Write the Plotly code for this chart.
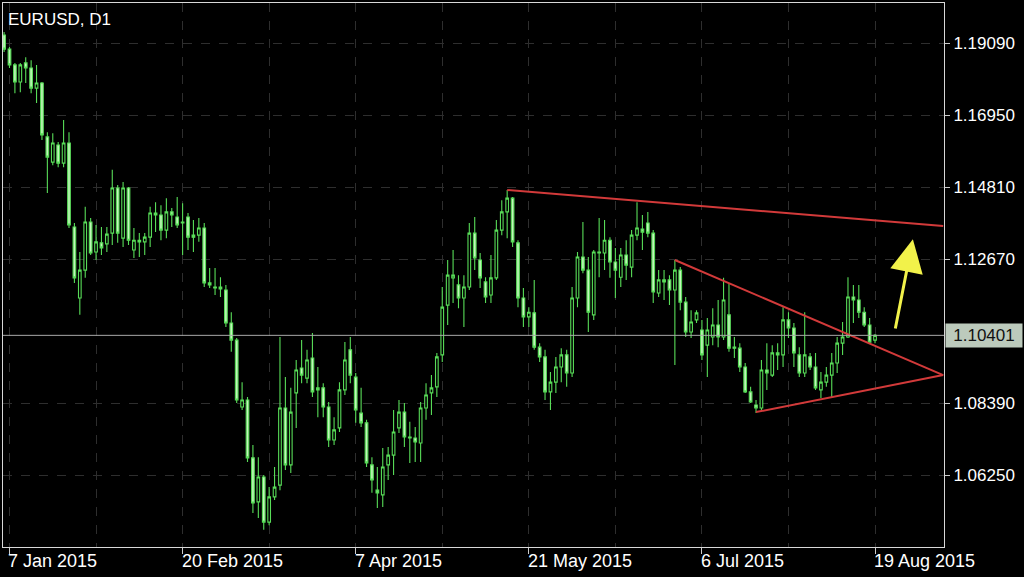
import pandas as pd
import plotly.graph_objects as go

# ---- data (EURUSD daily) ----
dates = pd.bdate_range("2015-01-06", "2015-08-19")

opens = [1.1933,1.1891,1.1844,1.1793,1.1850,1.1835,1.1775,1.1790,1.1630,1.1555,
         1.1606,1.1552,1.1612,1.1362,1.1151,1.1234,1.1377,1.1288,1.1315,1.1312,
         1.1344,1.1478,1.1329,1.1478,1.1294,1.1323,1.1318,1.1332,1.1404,1.1398,
         1.1353,1.1407,1.1392,1.1374,1.1392,1.1338,1.1338,1.1359,1.1196,1.1184,
         1.1184,1.1175,1.1077,1.1026,1.0827,1.0848,1.0676,1.0545,1.0619,1.0485,
         1.0560,1.0595,1.0824,1.0655,1.0869,1.0943,1.0913,1.0973,1.0878,1.0884,
         1.0827,1.0729,1.0765,1.0878,1.0997,1.0916,1.0809,1.0780,1.0655,1.0580,
         1.0566,1.0655,1.0684,1.0765,1.0812,1.0738,1.0735,1.0720,1.0824,1.0869,
         1.0887,1.0982,1.1130,1.1211,1.1190,1.1151,1.1184,1.1344,1.1264,1.1199,
         1.1160,1.1211,1.1353,1.1407,1.1448,1.1315,1.1151,1.1095,1.1107,1.1005,
         1.0976,1.0872,1.0901,1.0946,1.0982,1.0928,1.1151,1.1273,1.1234,1.1101,
         1.1285,1.1285,1.1323,1.1258,1.1213,1.1279,1.1243,1.1338,1.1356,1.1374,
         1.1344,1.1166,1.1205,1.1205,1.1175,1.1234,1.1139,1.1050,1.1086,1.1056,
         1.1011,1.1035,1.1071,1.1035,1.1101,1.1005,1.1002,1.0946,1.0872,1.0833,
         1.0824,1.0937,1.0922,1.0988,1.0982,1.1086,1.1062,1.0982,1.0928,1.0976,
         1.0946,1.0878,1.0901,1.0922,1.0958,1.1017,1.1035,1.1154,1.1145,1.1109,
         1.1071,1.1026]
highs = [1.1942,1.1897,1.1850,1.1850,1.1867,1.1858,1.1844,1.1793,1.1644,1.1641,
         1.1615,1.1680,1.1644,1.1374,1.1288,1.1422,1.1389,1.1368,1.1362,1.1362,
         1.1532,1.1487,1.1496,1.1481,1.1359,1.1344,1.1344,1.1422,1.1436,1.1427,
         1.1448,1.1419,1.1451,1.1433,1.1404,1.1383,1.1389,1.1374,1.1240,1.1240,
         1.1213,1.1190,1.1109,1.1032,1.0901,1.0857,1.0714,1.0678,1.0625,1.0589,
         1.0649,1.1035,1.0916,1.0884,1.0967,1.1026,1.0997,1.1047,1.0946,1.0898,
         1.0842,1.0797,1.0901,1.1020,1.1035,1.0928,1.0884,1.0789,1.0678,1.0649,
         1.0705,1.0708,1.0818,1.0848,1.0839,1.0783,1.0768,1.0842,1.0898,1.0922,
         1.0988,1.1184,1.1264,1.1294,1.1219,1.1219,1.1374,1.1392,1.1285,1.1213,
         1.1279,1.1383,1.1442,1.1472,1.1451,1.1323,1.1181,1.1124,1.1205,1.1017,
         1.0997,1.0931,1.0976,1.1002,1.0997,1.1184,1.1288,1.1377,1.1273,1.1294,
         1.1389,1.1383,1.1332,1.1300,1.1300,1.1323,1.1353,1.1436,1.1398,1.1407,
         1.1353,1.1234,1.1234,1.1219,1.1264,1.1243,1.1154,1.1115,1.1115,1.1086,
         1.1092,1.1121,1.1145,1.1211,1.1196,1.1035,1.1017,1.0958,1.0887,1.0848,
         1.0967,1.1017,1.1011,1.1017,1.1124,1.1109,1.1077,1.1005,1.1109,1.0988,
         1.0988,1.0931,1.0946,1.0988,1.1035,1.1080,1.1213,1.1190,1.1190,1.1124,
         1.1092,1.1044]
lows = [1.1882,1.1835,1.1760,1.1763,1.1790,1.1760,1.1731,1.1621,1.1463,1.1546,
        1.1540,1.1540,1.1359,1.1196,1.1101,1.1211,1.1279,1.1264,1.1279,1.1288,
        1.1309,1.1315,1.1303,1.1309,1.1270,1.1273,1.1279,1.1303,1.1347,1.1323,
        1.1329,1.1362,1.1359,1.1279,1.1294,1.1288,1.1318,1.1184,1.1181,1.1160,
        1.1154,1.1065,1.0991,1.0839,1.0818,1.0664,1.0512,1.0497,1.0462,1.0476,
        1.0551,1.0580,1.0640,1.0631,1.0765,1.0898,1.0898,1.0857,1.0797,1.0797,
        1.0708,1.0714,1.0753,1.0863,1.0898,1.0780,1.0768,1.0649,1.0572,1.0527,
        1.0530,1.0610,1.0625,1.0750,1.0708,1.0661,1.0664,1.0664,1.0789,1.0803,
        1.0857,1.0961,1.1071,1.1136,1.1121,1.1065,1.1175,1.1234,1.1181,1.1136,
        1.1136,1.1205,1.1338,1.1329,1.1303,1.1124,1.1065,1.1065,1.0997,1.0961,
        1.0848,1.0818,1.0869,1.0901,1.0887,1.0916,1.1124,1.1225,1.1050,1.1086,
        1.1213,1.1234,1.1211,1.1151,1.1184,1.1205,1.1213,1.1323,1.1294,1.1332,
        1.1136,1.1154,1.1145,1.1130,1.0952,1.1115,1.1035,1.1032,1.1077,1.0967,
        1.0916,1.1011,1.1005,1.1026,1.0991,1.0973,1.0931,1.0869,1.0839,1.0809,
        1.0818,1.0878,1.0916,1.0937,1.0946,1.1032,1.0946,1.0916,1.0916,1.0937,
        1.0878,1.0854,1.0887,1.0857,1.0928,1.0982,1.1032,1.1077,1.1092,1.1065,
        1.1017,1.1017]
closes = [1.1891,1.1844,1.1793,1.1844,1.1835,1.1775,1.1790,1.1636,1.1570,1.1612,
          1.1552,1.1612,1.1368,1.1211,1.1234,1.1377,1.1285,1.1318,1.1300,1.1341,
          1.1478,1.1344,1.1478,1.1323,1.1323,1.1318,1.1332,1.1404,1.1398,1.1353,
          1.1407,1.1398,1.1368,1.1377,1.1332,1.1332,1.1359,1.1196,1.1190,1.1181,
          1.1178,1.1077,1.1026,1.0848,1.0848,1.0676,1.0542,1.0619,1.0485,1.0560,
          1.0589,1.0824,1.0655,1.0812,1.0937,1.0922,1.0967,1.0872,1.0884,1.0827,
          1.0729,1.0759,1.0878,1.0967,1.0922,1.0818,1.0780,1.0661,1.0610,1.0572,
          1.0649,1.0684,1.0753,1.0812,1.0738,1.0735,1.0723,1.0824,1.0863,1.0884,
          1.0976,1.1124,1.1219,1.1219,1.1151,1.1184,1.1344,1.1270,1.1211,1.1154,
          1.1211,1.1353,1.1407,1.1448,1.1318,1.1151,1.1095,1.1109,1.1005,1.0976,
          1.0872,1.0901,1.0946,1.0982,1.0928,1.1151,1.1273,1.1234,1.1109,1.1288,
          1.1288,1.1323,1.1258,1.1234,1.1279,1.1249,1.1338,1.1359,1.1347,1.1344,
          1.1169,1.1205,1.1199,1.1175,1.1234,1.1139,1.1050,1.1080,1.1107,1.0982,
          1.1056,1.1071,1.1035,1.1145,1.1002,1.1002,1.0946,1.0872,1.0842,1.0824,
          1.0937,1.0928,1.0988,1.0982,1.1086,1.1062,1.0988,1.0928,1.0982,1.0946,
          1.0884,1.0901,1.0922,1.0958,1.1017,1.1035,1.1154,1.1145,1.1109,1.1071,
          1.1020,1.10401]

symbol_title = "EURUSD, D1"
price_ticks = [1.19090, 1.16950, 1.14810, 1.12670, 1.08390, 1.06250]
current_price = 1.10401
date_tick_pos = [1, 33, 65, 97, 129, 161]
date_tick_text = ["7 Jan 2015", "20 Feb 2015", "7 Apr 2015",
                  "21 May 2015", "6 Jul 2015", "19 Aug 2015"]
grid_minor_pos = [17, 49, 81, 113, 145]

# trend lines: (bar index, price) end points
trend_top = [(93, 1.1472), (173.6, 1.1365)]
trend_down = [(124, 1.1264), (173.6, 1.0922)]
trend_up = [(139, 1.0812), (173.6, 1.0922)]
arrow_from = (164.7, 1.1056)
arrow_to = (168.0, 1.1326)

x = list(range(len(opens)))

fig = go.Figure()
fig.add_trace(go.Candlestick(
    x=x, open=opens, high=highs, low=lows, close=closes,
    text=[d.strftime("%d %b %Y") for d in dates],
    increasing=dict(line=dict(color="#58dc58", width=1.1), fillcolor="#000000"),
    decreasing=dict(line=dict(color="#58dc58", width=1.1), fillcolor="#c2f6ba"),
    showlegend=False,
))

for line in (trend_top, trend_down, trend_up):
    fig.add_trace(go.Scatter(
        x=[line[0][0], line[1][0]], y=[line[0][1], line[1][1]],
        mode="lines", line=dict(color="#d23a3a", width=2),
        showlegend=False, hoverinfo="skip"))

fig.add_hline(y=current_price, line=dict(color="#a8a8a8", width=1))

font_family = "Liberation Sans, Arial, sans-serif"
annotations = []
annotations.append(dict(
    x=arrow_to[0], y=arrow_to[1], ax=arrow_from[0], ay=arrow_from[1],
    xref="x", yref="y", axref="x", ayref="y", text="", showarrow=True,
    arrowhead=2, arrowsize=2.2, arrowwidth=3, arrowcolor="#f2f24a"))
for pos, txt in zip(date_tick_pos, date_tick_text):
    annotations.append(dict(
        x=pos, y=0, xref="x", yref="paper", text=txt, showarrow=False,
        xanchor="left", yanchor="top", xshift=-3, yshift=-2,
        font=dict(family=font_family, size=18, color="#ffffff")))
annotations.append(dict(
    x=0, y=1, xref="paper", yref="paper", text=symbol_title, showarrow=False,
    xanchor="left", yanchor="top", xshift=3, yshift=-5,
    font=dict(family=font_family, size=17, color="#ffffff")))
annotations.append(dict(
    x=1, y=current_price, xref="paper", yref="y", text=f"{current_price:.5f}",
    showarrow=False, xanchor="left", yanchor="middle", xshift=1,
    bgcolor="#bccabc", borderpad=2, width=72, align="center",
    font=dict(family=font_family, size=17, color="#111111")))

grid_color = "#2e2e2e"
fig.update_layout(
    width=1024, height=577,
    paper_bgcolor="#000000", plot_bgcolor="#000000",
    margin=dict(l=3, r=80, t=3, b=30),
    annotations=annotations,
    xaxis=dict(
        range=[-0.2, 173.75], rangeslider=dict(visible=False),
        tickmode="array", tickvals=date_tick_pos, showticklabels=False,
        ticks="outside", ticklen=6, tickcolor="#cccccc",
        showgrid=True, gridcolor=grid_color, griddash="dash", gridwidth=1,
        minor=dict(tickvals=grid_minor_pos, showgrid=True, gridcolor=grid_color,
                   griddash="dash", ticks=""),
        showline=True, linecolor="#d8d8d8", linewidth=1, mirror=True,
        zeroline=False,
    ),
    yaxis=dict(
        range=[1.0411, 1.2028], side="right",
        tickmode="array", tickvals=price_ticks,
        ticktext=[f"{v:.5f}" for v in price_ticks],
        ticks="outside", ticklen=5, tickcolor="#cccccc",
        tickfont=dict(family=font_family, size=17, color="#ffffff"),
        showgrid=True, gridcolor=grid_color, griddash="dash", gridwidth=1,
        showline=True, linecolor="#d8d8d8", linewidth=1, mirror=True,
        zeroline=False,
    ),
)

fig.write_html("out.html", config={"displayModeBar": False},
               post_script="document.body.style.margin='0';")
